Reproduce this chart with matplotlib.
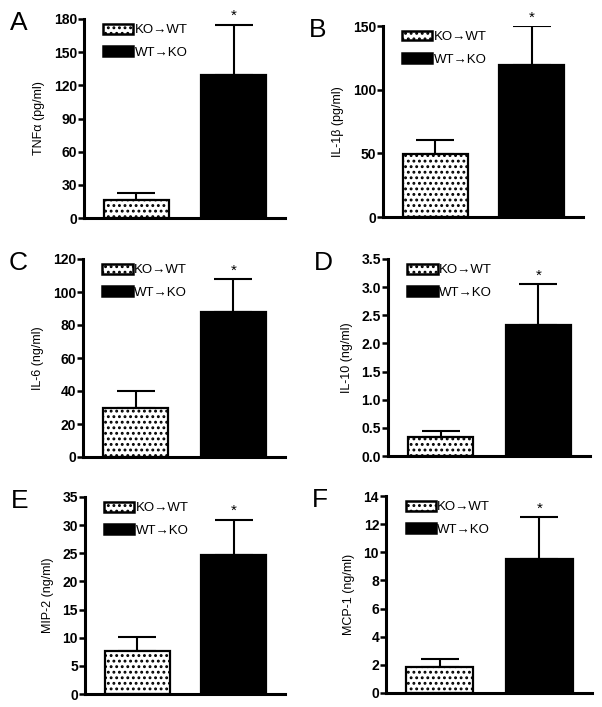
import numpy as np
import matplotlib
matplotlib.use("Agg")
import matplotlib.pyplot as plt
from matplotlib.patches import Patch

plt.rcParams['font.family'] = ['Liberation Sans', 'DejaVu Sans']
plt.rcParams['hatch.linewidth'] = 1.3
plt.rcParams['hatch.color'] = 'black'

# values
panels = ['A', 'B', 'C', 'D', 'E', 'F']
ylabels = ['TNF\u03b1 (pg/ml)', 'IL-1\u03b2 (pg/ml)', 'IL-6 (ng/ml)',
           'IL-10 (ng/ml)', 'MIP-2 (ng/ml)', 'MCP-1 (ng/ml)']
groups = ['KO\u2192WT', 'WT\u2192KO']
ko_mean = [16, 49.5, 29.5, 0.33, 7.6, 1.85]
ko_err = [6.5, 11, 10.5, 0.11, 2.5, 0.55]
wt_mean = [129, 119, 88, 2.32, 24.7, 9.5]
wt_err = [46, 31, 20, 0.74, 6.3, 3.0]
ymax = [180, 150, 120, 3.5, 35, 14]
ystep = [30, 50, 20, 0.5, 5, 2]
yfmt = ['%d', '%d', '%d', '%.1f', '%d', '%d']

W, H = 602, 707
fig = plt.figure(figsize=(W / 100, H / 100), dpi=100)

# axes boxes in pixels: left, top, right, bottom
boxes = [(84, 19, 285, 218), (383, 26, 583, 217),
         (83, 259, 285, 457), (388, 259, 590, 456),
         (85, 497, 285, 694), (386, 496, 592, 693)]

for i in range(6):
    l, t, r, b = boxes[i]
    ax = fig.add_axes([l / W, 1 - b / H, (r - l) / W, (b - t) / H])
    x = np.array([0, 1])
    ax.bar(0, ko_mean[i], width=0.67, color='white', edgecolor='black',
           linewidth=1.6, hatch='...', zorder=2)
    ax.bar(1, wt_mean[i], width=0.67, color='black', edgecolor='black',
           linewidth=1.6, zorder=2)
    ax.errorbar(x, [ko_mean[i], wt_mean[i]],
                yerr=[[0, 0], [ko_err[i], wt_err[i]]],
                fmt='none', ecolor='black', elinewidth=1.5, capsize=14,
                capthick=1.5, zorder=1)
    ax.annotate('*', (1, wt_mean[i] + wt_err[i]), xytext=(0, 1),
                textcoords='offset points', ha='center', va='bottom',
                fontsize=11)

    ax.set_xlim(-0.54, 1.53)
    ax.set_ylim(0, ymax[i])
    ax.set_yticks(np.arange(0, ymax[i] + ystep[i] / 2, ystep[i]))
    ax.yaxis.set_major_formatter(matplotlib.ticker.FormatStrFormatter(yfmt[i]))
    ax.set_xticks([])
    for s in ['top', 'right']:
        ax.spines[s].set_visible(False)
    for s in ['left', 'bottom']:
        ax.spines[s].set_linewidth(2.2)
    ax.tick_params(axis='y', length=4, width=1.8, labelsize=10, pad=1)
    for lab in ax.get_yticklabels():
        lab.set_fontweight('bold')
    ax.set_ylabel(ylabels[i], fontsize=9, labelpad=6)

    handles = [Patch(facecolor='white', edgecolor='black', hatch='...',
                     linewidth=1.8),
               Patch(facecolor='black', edgecolor='black', linewidth=1.8)]
    ax.legend(handles, groups, loc='upper left',
              bbox_to_anchor=(0.095, 0.975), frameon=False, fontsize=9.5,
              handlelength=2.3, handleheight=0.75, handletextpad=0.1,
              labelspacing=0.75, borderpad=0, borderaxespad=0)

    ax.annotate(panels[i], (0, 1), xycoords='axes fraction',
                xytext=(-74, -4), textcoords='offset pixels',
                ha='left', va='center', fontsize=19)

fig.savefig('out.png', dpi=100)
